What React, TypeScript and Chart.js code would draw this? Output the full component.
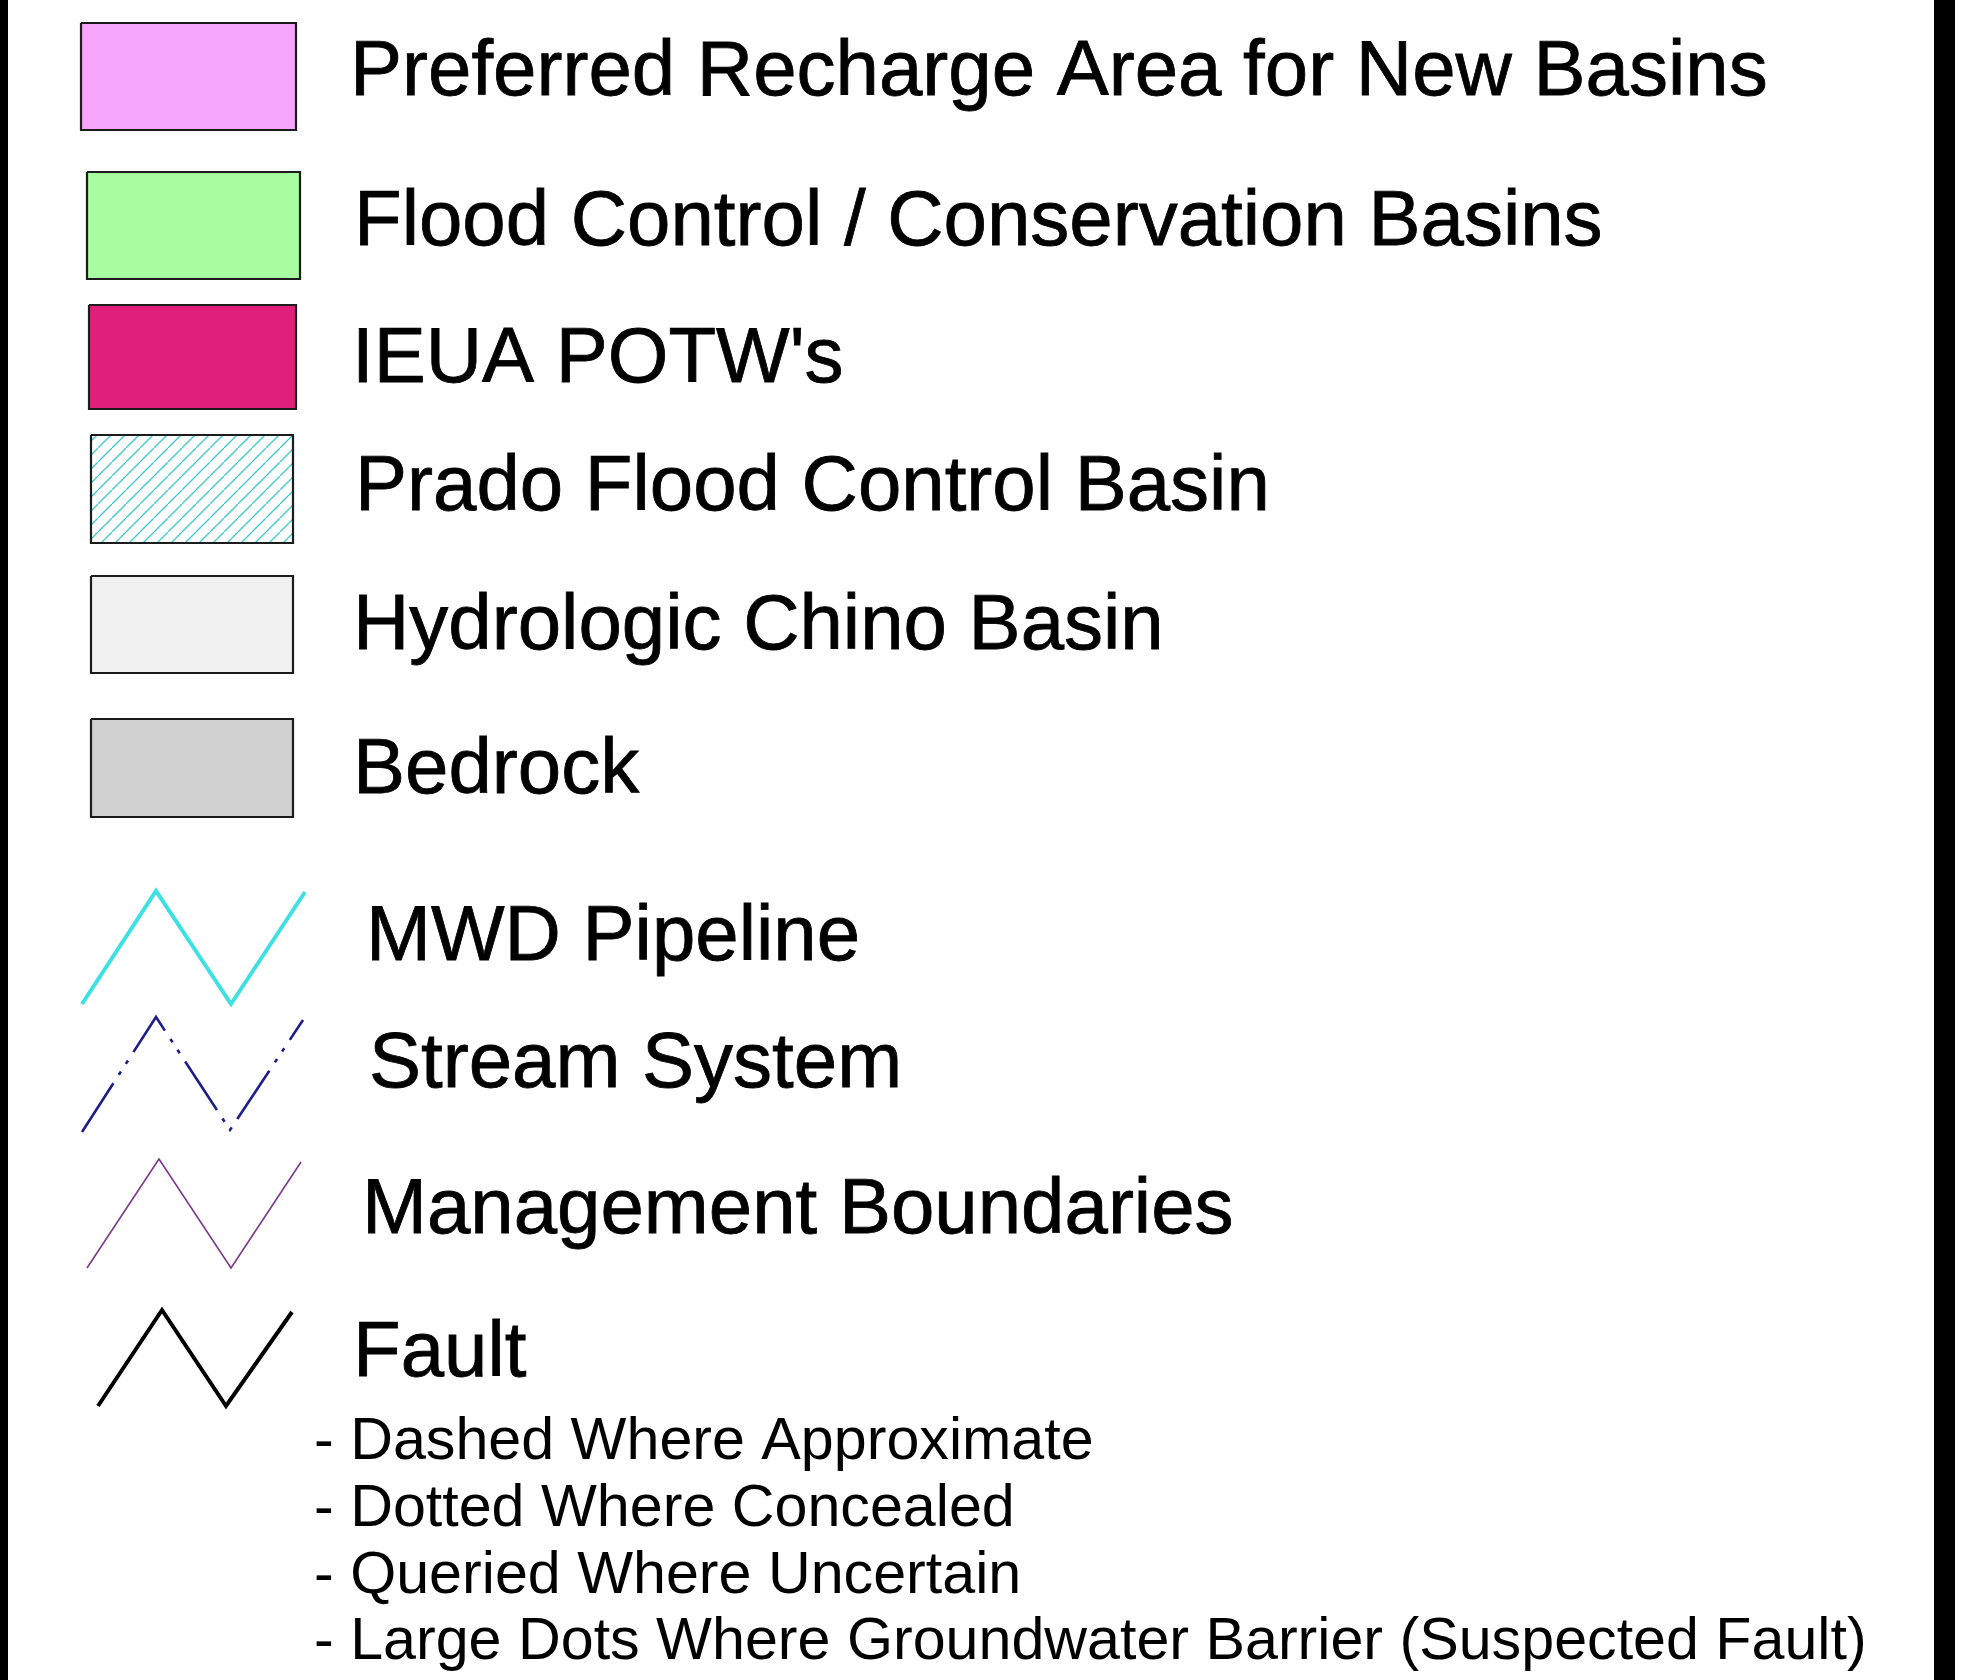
import React, { useEffect, useRef } from "react";
import { Chart, registerables } from "chart.js";

Chart.register(...registerables);

// ---- data ----
const SWATCH_LABELS = [
  "Preferred Recharge Area for New Basins",
  "Flood Control / Conservation Basins",
  "IEUA POTW's",
  "Prado Flood Control Basin",
  "Hydrologic Chino Basin",
  "Bedrock",
];
const SWATCH_LEFT = [81, 87, 89, 91, 91, 91];
const SWATCH_RIGHT = [296, 300, 296, 293, 293, 293];
const SWATCH_TOP = [23, 172, 305, 435, 576, 719];
const SWATCH_BOTTOM = [130, 279, 409, 543, 673, 817];

const LINE_LABELS = ["MWD Pipeline", "Stream System", "Management Boundaries", "Fault"];
const MWD_X = [82, 156, 231, 305];
const MWD_Y = [1004, 891, 1004, 892];
const STREAM_X = [82, 156, 230, 303];
const STREAM_Y = [1132, 1017, 1130, 1020];
const MGMT_X = [87, 159, 231, 301];
const MGMT_Y = [1268, 1159, 1268, 1162];
const FAULT_X = [98, 162, 226, 292];
const FAULT_Y = [1406, 1310, 1406, 1312];

const LABEL_X = [350, 354, 352, 355, 353, 353, 366, 369, 362, 353];
const LABEL_BASELINE = [95, 245, 382, 510, 649, 793, 960, 1087, 1233, 1376];

const NOTE_LINES = [
  "- Dashed Where Approximate",
  "- Dotted Where Concealed",
  "- Queried Where Uncertain",
  "- Large Dots Where Groundwater Barrier (Suspected Fault)",
];
const NOTE_X = [314, 314, 314, 314];
const NOTE_BASELINE = [1459, 1526, 1593, 1659];

const FRAME_LEFT = [0, 1934];
const FRAME_RIGHT = [8, 1955];

const W = 1962;
const H = 1680;

function rect(x0: number, x1: number, y0: number, y1: number) {
  return [
    { x: x0, y: y0 },
    { x: x1, y: y0 },
    { x: x1, y: y1 },
    { x: x0, y: y1 },
    { x: x0, y: y0 },
  ];
}

function zig(xs: number[], ys: number[]) {
  return xs.map((x, i) => ({ x, y: ys[i] }));
}

function makeHatch(): CanvasPattern | string {
  const c = document.createElement("canvas");
  c.width = 14;
  c.height = 14;
  const g = c.getContext("2d");
  if (!g) return "#ffffff";
  g.fillStyle = "#ffffff";
  g.fillRect(0, 0, 14, 14);
  g.strokeStyle = "#3fc9cf";
  g.lineWidth = 1.3;
  g.beginPath();
  g.moveTo(-2, 16);
  g.lineTo(16, -2);
  g.stroke();
  const p = g.createPattern(c, "repeat");
  return p || "#ffffff";
}

export default function App() {
  const ref = useRef<HTMLCanvasElement | null>(null);

  useEffect(() => {
    document.body.style.margin = "0";
    const canvas = ref.current;
    if (!canvas) return;

    const swatchFills = ["#f5a6fc", "#a8fda0", "#e11f7b", makeHatch(), "#f0f0f0", "#d1d1d1"];

    const datasets: any[] = [];
    SWATCH_LABELS.forEach((lab, i) => {
      datasets.push({
        label: lab,
        data: rect(SWATCH_LEFT[i], SWATCH_RIGHT[i], SWATCH_TOP[i], SWATCH_BOTTOM[i]),
        showLine: true,
        fill: "shape",
        backgroundColor: swatchFills[i],
        borderColor: "#1c1c1c",
        borderWidth: 2.2,
        pointRadius: 0,
        borderJoinStyle: "miter",
      });
    });
    FRAME_LEFT.forEach((l, i) => {
      datasets.push({
        label: "frame" + i,
        data: rect(l, FRAME_RIGHT[i], 0, H),
        showLine: true,
        fill: "shape",
        backgroundColor: "#000000",
        borderWidth: 0,
        pointRadius: 0,
      });
    });
    datasets.push({
      label: LINE_LABELS[0],
      data: zig(MWD_X, MWD_Y),
      showLine: true,
      borderColor: "#3ee0e2",
      borderWidth: 4,
      pointRadius: 0,
      borderJoinStyle: "miter",
    });
    datasets.push({
      label: LINE_LABELS[1],
      data: zig(STREAM_X, STREAM_Y),
      showLine: true,
      borderColor: "#1e1e8a",
      borderWidth: 2.6,
      borderDash: [58, 10, 4, 9, 4, 10],
      pointRadius: 0,
    });
    datasets.push({
      label: LINE_LABELS[2],
      data: zig(MGMT_X, MGMT_Y),
      showLine: true,
      borderColor: "#7b3a8c",
      borderWidth: 1.6,
      pointRadius: 0,
    });
    datasets.push({
      label: LINE_LABELS[3],
      data: zig(FAULT_X, FAULT_Y),
      showLine: true,
      borderColor: "#000000",
      borderWidth: 4,
      pointRadius: 0,
      borderJoinStyle: "miter",
    });

    const allLabels = [...SWATCH_LABELS, ...LINE_LABELS];

    const textPlugin = {
      id: "legendText",
      afterDatasetsDraw(chart: any) {
        const ctx = chart.ctx;
        const xs = chart.scales.x;
        const ys = chart.scales.y;
        ctx.save();
        ctx.fillStyle = "#000000";
        ctx.strokeStyle = "#000000";
        ctx.lineWidth = 0.8;
        ctx.textBaseline = "alphabetic";
        ctx.textAlign = "left";
        ctx.font = "78px 'Liberation Sans', Arial, sans-serif";
        allLabels.forEach((t, i) => {
          const px = xs.getPixelForValue(LABEL_X[i]);
          const py = ys.getPixelForValue(LABEL_BASELINE[i]);
          ctx.fillText(t, px, py);
          ctx.strokeText(t, px, py);
        });
        ctx.font = "59.2px 'Liberation Sans', Arial, sans-serif";
        NOTE_LINES.forEach((t, i) => {
          ctx.fillText(t, xs.getPixelForValue(NOTE_X[i]), ys.getPixelForValue(NOTE_BASELINE[i]));
        });
        ctx.restore();
      },
    };

    const chart = new Chart(canvas, {
      type: "scatter",
      data: { datasets },
      options: {
        animation: false,
        responsive: false,
        maintainAspectRatio: false,
        layout: { padding: 0 },
        plugins: {
          legend: { display: false },
          tooltip: { enabled: false },
          title: { display: false },
        },
        elements: { line: { tension: 0 } },
        scales: {
          x: { type: "linear", min: 0, max: W, display: false },
          y: { type: "linear", min: 0, max: H, reverse: true, display: false },
        },
      },
      plugins: [textPlugin],
    });
    return () => chart.destroy();
  }, []);

  return (
    <div style={{ position: "absolute", left: 0, top: 0, width: W, height: H, background: "#ffffff" }}>
      <canvas ref={ref} width={W} height={H} style={{ width: W, height: H, display: "block" }} />
    </div>
  );
}
